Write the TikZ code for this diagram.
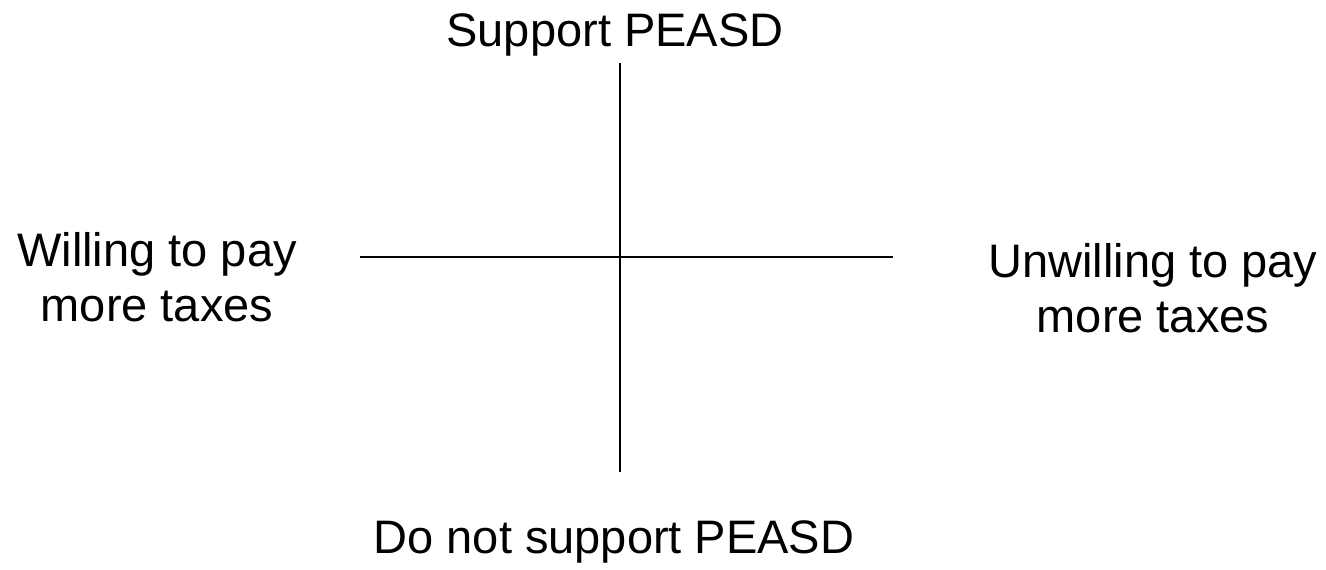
\documentclass[tikz,border=0pt]{standalone}
\usepackage{fontspec}
\setmainfont{Liberation Sans}
\begin{document}
\begin{tikzpicture}[x=1pt,y=-1pt,
  lbl/.style={inner sep=0pt, anchor=base, align=center, font=\fontsize{47}{55}\selectfont},
  axis/.style={line width=1.4pt, black}]
\useasboundingbox (0,0) rectangle (1326,570);
\coordinate (vtop) at (620,63);
\coordinate (vbot) at (620,472);
\coordinate (hleft) at (360,257);
\coordinate (hright) at (893,257);
\draw[axis] (vtop) -- (vbot);
\draw[axis] (hleft) -- (hright);
\node[lbl] (sup) at (615,46) {Support PEASD};
\node[lbl] (nsup) at (614,553) {Do not support PEASD};
\node[lbl] (will) at (157,321) {Willing to pay\\more taxes};
\node[lbl] (unwill) at (1153,332) {Unwilling to pay\\more taxes};
\end{tikzpicture}
\end{document}
